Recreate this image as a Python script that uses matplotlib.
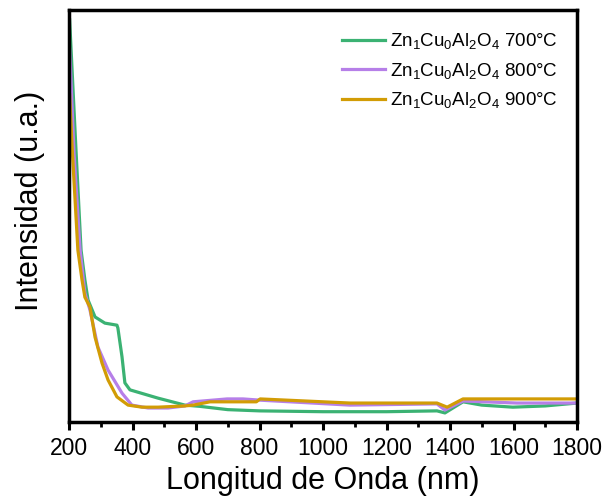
import matplotlib
matplotlib.use("Agg")
import matplotlib.pyplot as plt
from matplotlib.ticker import MultipleLocator, NullLocator

plt.rcParams["font.family"] = ["Liberation Sans", "DejaVu Sans"]
plt.rcParams["mathtext.fontset"] = "custom"
plt.rcParams["mathtext.rm"] = "Liberation Sans"
plt.rcParams["mathtext.it"] = "Liberation Sans"

# Zn1Cu0Al2O4 calcined at 700 C
wl_700 = [202, 222, 238, 250, 260, 282, 313, 351, 354, 367, 376, 392, 480, 565, 612, 700,
          800, 1000, 1200, 1359, 1384, 1441, 1500, 1598, 1700, 1800]
int_700 = [0.976, 0.660, 0.417, 0.345, 0.296, 0.255, 0.240, 0.235, 0.228, 0.158, 0.095,
           0.078, 0.058, 0.041, 0.038, 0.030, 0.027, 0.025, 0.025, 0.027, 0.022, 0.049,
           0.041, 0.036, 0.039, 0.046]

# 800 C
wl_800 = [202, 216, 235, 250, 266, 291, 323, 367, 398, 449, 512, 565, 591, 698, 748, 802,
          1085, 1359, 1384, 1441, 1611, 1800]
int_800 = [0.905, 0.650, 0.417, 0.313, 0.272, 0.182, 0.126, 0.070, 0.041, 0.034, 0.034,
           0.039, 0.049, 0.056, 0.056, 0.053, 0.041, 0.044, 0.029, 0.051, 0.046, 0.046]

# 900 C
wl_900 = [202, 211, 228, 241, 250, 266, 282, 304, 323, 351, 386, 430, 480, 565, 591, 644,
          748, 790, 802, 1085, 1359, 1391, 1441, 1800]
int_900 = [0.794, 0.650, 0.417, 0.345, 0.303, 0.279, 0.206, 0.143, 0.102, 0.061, 0.041,
           0.036, 0.036, 0.039, 0.041, 0.049, 0.049, 0.049, 0.056, 0.046, 0.046, 0.036,
           0.056, 0.056]

labels = [r"Zn$_1$Cu$_0$Al$_2$O$_4$ 700°C",
          r"Zn$_1$Cu$_0$Al$_2$O$_4$ 800°C",
          r"Zn$_1$Cu$_0$Al$_2$O$_4$ 900°C"]
colors = ["#3bb273", "#b67fe8", "#d29c05"]

fig = plt.figure(figsize=(6.06, 4.97), dpi=100)
ax = fig.add_axes([69 / 606, 75 / 497, 508 / 606, 412 / 497])

for wl, inten, lab, col in zip((wl_700, wl_800, wl_900), (int_700, int_800, int_900), labels, colors):
    ax.plot(wl, inten, color=col, linewidth=2.3, label=lab)

ax.set_xlim(200, 1800)
ax.set_ylim(0, 1)
ax.xaxis.set_major_locator(MultipleLocator(200))
ax.xaxis.set_minor_locator(MultipleLocator(100))
ax.yaxis.set_major_locator(NullLocator())
ax.tick_params(axis="x", which="major", direction="out", length=6, width=2.2,
               labelsize=16.5, pad=5)
ax.tick_params(axis="x", which="minor", direction="out", length=3.5, width=2)
for sp in ax.spines.values():
    sp.set_linewidth(2.5)

ax.set_xlabel("Longitud de Onda (nm)", fontsize=22, labelpad=4)
ax.set_ylabel("Intensidad (u.a.)", fontsize=22, labelpad=17)
ax.yaxis.label.set_y(0.536)

ax.legend(loc="upper right", bbox_to_anchor=(0.963, 0.948), frameon=False, fontsize=13.5,
          handlelength=2.3, handletextpad=0.27, labelspacing=0.5, borderpad=0,
          borderaxespad=0)

fig.savefig("out.png", dpi=100)
